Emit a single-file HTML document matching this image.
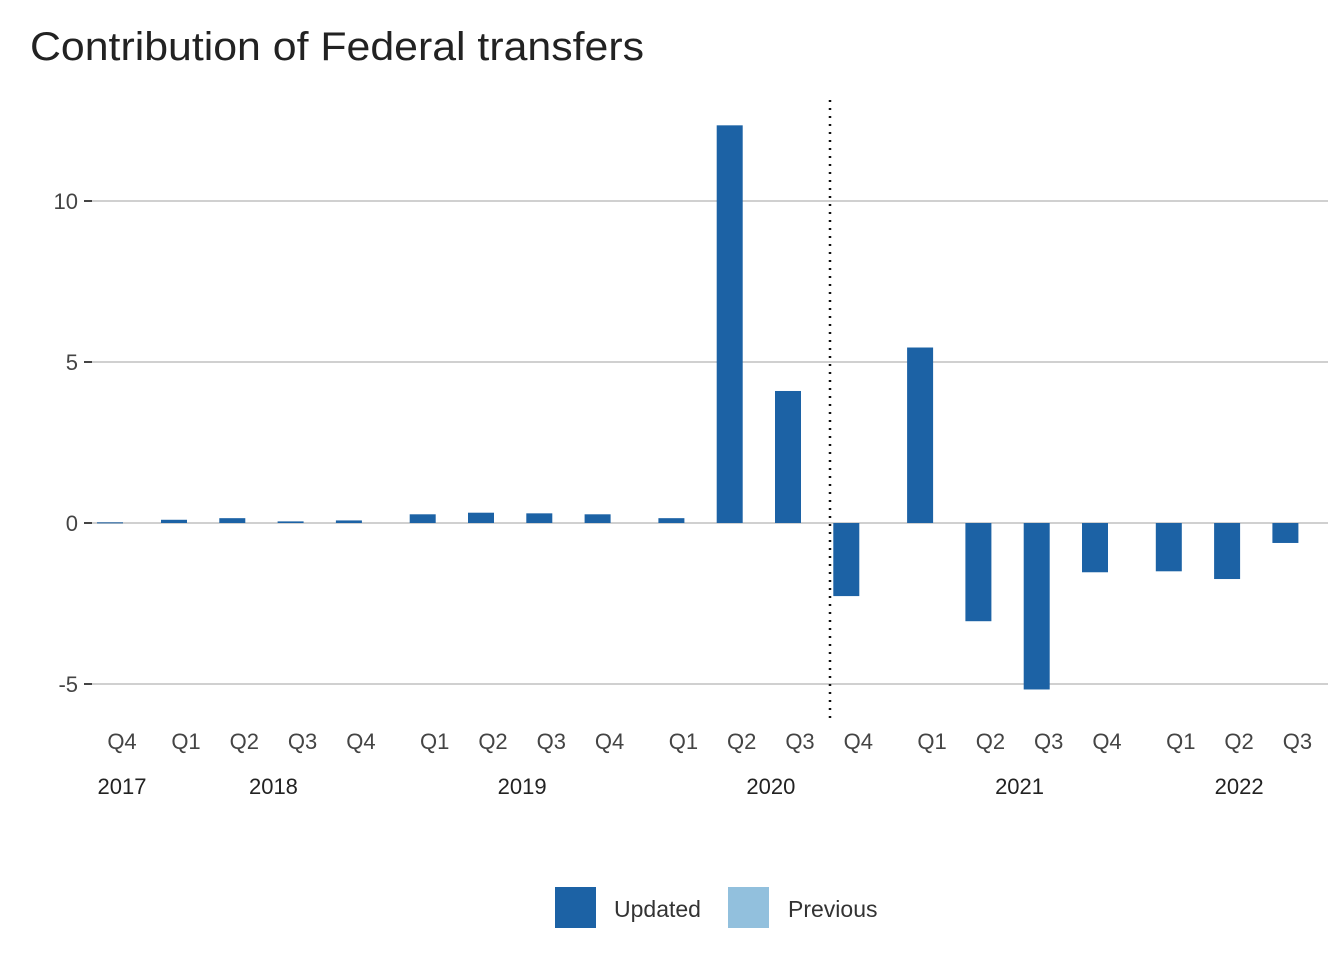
<!DOCTYPE html>
<html><head><meta charset="utf-8"><style>
body{margin:0;background:#fff;font-family:"Liberation Sans",Roboto,sans-serif}
svg text{font-family:"Liberation Sans",sans-serif}
</style></head><body>
<svg id="c" width="1344" height="960">
<text x="30" y="60" font-size="40" fill="#222" textLength="614" lengthAdjust="spacingAndGlyphs">Contribution of Federal transfers</text>
<g id="grid"></g><g id="bars"></g><g id="xl"></g>
<line x1="830" y1="100" x2="830" y2="718" stroke="#111" stroke-width="2.5" stroke-dasharray="2,6"/>
<rect x="555" y="887" width="41" height="41" fill="#1c62a5"/>
<text x="614" y="917" font-size="23" fill="#333">Updated</text>
<rect x="728" y="887" width="41" height="41" fill="#92c0dd"/>
<text x="788" y="917" font-size="23" fill="#333">Previous</text>
</svg>
<script>
const quarters=["Q4","Q1","Q2","Q3","Q4","Q1","Q2","Q3","Q4","Q1","Q2","Q3","Q4","Q1","Q2","Q3","Q4","Q1","Q2","Q3"];
const years=[2017,2018,2018,2018,2018,2019,2019,2019,2019,2020,2020,2020,2020,2021,2021,2021,2021,2022,2022,2022];
const values=[0.02,0.1,0.15,0.05,0.08,0.27,0.32,0.3,0.27,0.15,12.35,4.1,-2.27,5.45,-3.05,-5.17,-1.53,-1.5,-1.74,-0.62];
const yTicks=[-5,0,5,10];
const ns="http://www.w3.org/2000/svg";
const y=v=>523-v*32.2;
const x=i=>{const yi=years[i]-2017;return i===0?122:186+(i-1)*58.3+(yi-1)*15.5;};
function mk(t,a,p){const e=document.createElementNS(ns,t);for(const k in a)e.setAttribute(k,a[k]);document.getElementById(p).appendChild(e);return e;}
yTicks.forEach(t=>{
 const l=mk("line",{x1:90,x2:1328,y1:y(t),y2:y(t),stroke:"#d0d0d0","stroke-width":2},"grid");
 
 
 const k=mk("line",{x1:84,x2:92,y1:y(t),y2:y(t),stroke:"#444","stroke-width":2},"grid");
 
 
 const tx=mk("text",{x:78,y:y(t)+8,"font-size":22,fill:"#444","text-anchor":"end"},"grid");
 tx.textContent=t;
 
 
});
values.forEach((v,i)=>{
 const cx=x(i)-12;
 const r=mk("rect",{x:cx-13,width:26,y:Math.min(y(v),y(0)),height:Math.max(Math.abs(y(v)-y(0)),1),fill:"#1c62a5"},"bars");
 
 
 const q=mk("text",{x:x(i),y:749,"font-size":22,fill:"#444","text-anchor":"middle"},"xl");
 q.textContent=quarters[i];
 
 
});
const yrs=[...new Set(years)];
yrs.forEach(yr=>{
 const idx=years.map((v,i)=>v===yr?i:-1).filter(i=>i>=0);
 const mid=(x(idx[0])+x(idx[idx.length-1]))/2;
 const t=mk("text",{x:mid,y:794,"font-size":22,fill:"#222","text-anchor":"middle"},"xl");
 t.textContent=yr;
 
 
});
</script>
</body></html>
